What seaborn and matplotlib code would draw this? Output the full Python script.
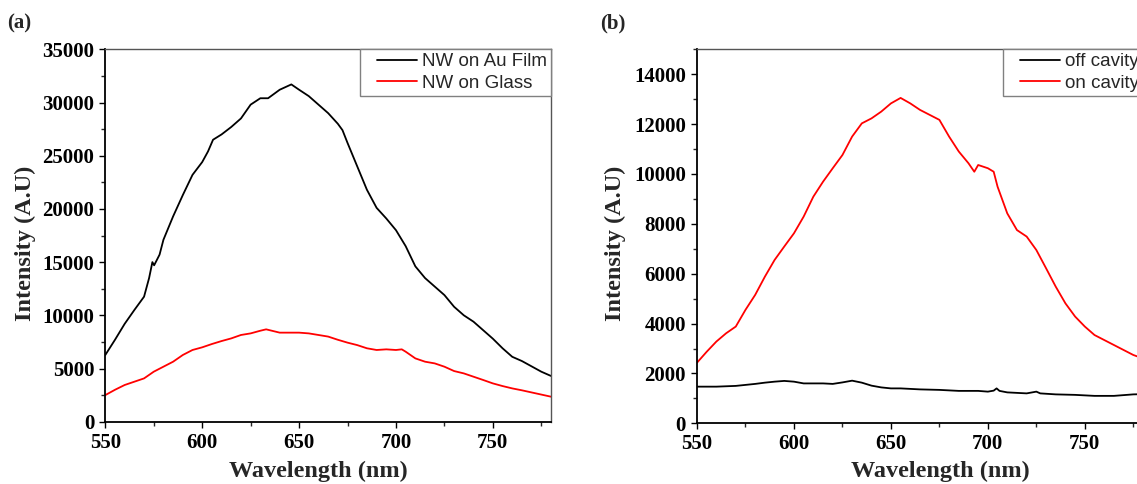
import matplotlib
matplotlib.use("Agg")
import matplotlib.pyplot as plt
import seaborn as sns
import pandas as pd
from matplotlib.lines import Line2D
from matplotlib.legend_handler import HandlerLine2D
from matplotlib.ticker import MultipleLocator
from matplotlib.font_manager import FontProperties

# ---------------- data ----------------
# Panel (a)
wl_au = [550, 555, 560, 565, 570, 572.6, 574.3, 575.2, 578, 580, 585, 590, 595, 600, 603,
         605.6, 610, 615, 620, 625, 630, 634, 640, 646, 650, 655, 660, 665, 670, 672.4,
         675, 680, 685, 690, 695, 700, 705, 710, 715, 720, 725, 730, 735, 740, 745, 750,
         755, 760, 765, 770, 775, 780]
int_au = [6270, 7700, 9200, 10500, 11750, 13500, 15000, 14700, 15700, 17100, 19300, 21300,
          23200, 24400, 25400, 26500, 27000, 27700, 28500, 29800, 30400, 30400, 31200, 31700,
          31200, 30600, 29800, 29000, 28000, 27400, 26200, 24000, 21800, 20100, 19100, 18000,
          16500, 14600, 13500, 12700, 11900, 10800, 10000, 9400, 8600, 7800, 6900, 6100,
          5700, 5200, 4700, 4300]

wl_glass = [550, 555, 560, 565, 570, 575, 580, 585, 590, 595, 600, 605, 610, 615, 620, 625,
            630, 633, 640, 650, 655, 660, 665, 670, 675, 680, 685, 690, 695, 700, 703, 705,
            710, 715, 720, 725, 730, 735, 740, 745, 750, 755, 760, 765, 770, 775, 780]
int_glass = [2500, 3000, 3450, 3760, 4070, 4700, 5170, 5640, 6270, 6740, 6990, 7300, 7580,
             7830, 8150, 8300, 8550, 8680, 8370, 8370, 8300, 8150, 8000, 7700, 7430, 7200,
             6900, 6740, 6800, 6740, 6800, 6580, 5950, 5640, 5480, 5170, 4760, 4540, 4230,
             3920, 3600, 3350, 3130, 2950, 2750, 2550, 2350]

# Panel (b)
wl_on = [550, 555, 560, 565, 570, 575, 580, 585, 590, 595, 600, 605, 610, 615, 620, 625,
         630, 635, 640, 645, 650, 655, 660, 665, 670, 675, 680, 685, 690, 693, 695, 700,
         703, 705, 710, 715, 720, 725, 730, 735, 740, 745, 750, 755, 760, 765, 770, 775,
         780]
int_on = [2430, 2870, 3280, 3610, 3880, 4550, 5150, 5880, 6550, 7090, 7620, 8290, 9090,
          9690, 10230, 10760, 11500, 12030, 12230, 12500, 12830, 13050, 12830, 12570, 12370,
          12170, 11500, 10900, 10430, 10090, 10360, 10230, 10090, 9490, 8420, 7750, 7490,
          6950, 6220, 5480, 4810, 4280, 3880, 3540, 3340, 3140, 2940, 2740, 2600]

wl_off = [550, 560, 570, 580, 585, 590, 595, 600, 605, 610, 615, 620, 625, 630, 635, 640,
          645, 650, 655, 665, 675, 685, 695, 700, 703, 704.5, 706, 710, 720, 725, 727, 735,
          745, 755, 765, 775, 780]
int_off = [1470, 1470, 1500, 1580, 1630, 1670, 1700, 1670, 1600, 1600, 1600, 1580, 1640,
           1710, 1630, 1510, 1440, 1400, 1400, 1360, 1340, 1300, 1300, 1270, 1310, 1400,
           1300, 1240, 1200, 1270, 1200, 1160, 1140, 1100, 1100, 1160, 1170]

labels_a = ["NW on Au Film", "NW on Glass"]
labels_b = ["off cavity", "on cavity"]
xlabel = "Wavelength (nm)"
ylabel = "Intensity (A.U)"

# ---------------- styling ----------------
sns.set_style("ticks")
plt.rcParams["font.family"] = ["Liberation Serif", "DejaVu Serif"]
plt.rcParams["axes.linewidth"] = 1.3

W, H = 1137, 484
fig = plt.figure(figsize=(W / 100, H / 100), dpi=100)
ax1 = fig.add_axes([105.3 / W, 1 - 421.7 / H, (551 - 105.3) / W, (421.7 - 49.3) / H])
ax2 = fig.add_axes([697 / W, 1 - 423.3 / H, 446 / W, (423.3 - 49.3) / H])

df_a1 = pd.DataFrame({"wl": wl_au, "I": int_au})
df_a2 = pd.DataFrame({"wl": wl_glass, "I": int_glass})
df_b1 = pd.DataFrame({"wl": wl_off, "I": int_off})
df_b2 = pd.DataFrame({"wl": wl_on, "I": int_on})

sns.lineplot(data=df_a1, x="wl", y="I", color="black", lw=1.3, ax=ax1, label=labels_a[0])
sns.lineplot(data=df_a2, x="wl", y="I", color="#ff0000", lw=1.3, ax=ax1, label=labels_a[1])
sns.lineplot(data=df_b1, x="wl", y="I", color="black", lw=1.3, ax=ax2, label=labels_b[0])
sns.lineplot(data=df_b2, x="wl", y="I", color="#ff0000", lw=1.3, ax=ax2, label=labels_b[1])

ax1.set_xlim(550, 780)
ax1.set_ylim(0, 35000)
ax2.set_xlim(550, 780)
ax2.set_ylim(0, 15000)

ax1.yaxis.set_major_locator(MultipleLocator(5000))
ax1.yaxis.set_minor_locator(MultipleLocator(2500))
ax2.yaxis.set_major_locator(MultipleLocator(2000))
ax2.yaxis.set_minor_locator(MultipleLocator(1000))

tick_font = FontProperties(family="Liberation Serif", weight="bold", size=15)
label_font = FontProperties(family="Liberation Serif", weight="bold", size=17.5)
leg_font = FontProperties(family="Liberation Sans", size=13.5)

for ax, (ylx, xlx, xly) in zip([ax1, ax2], [(-0.1555, 0.478, -0.104), (-0.159, 0.545, -0.099)]):
    ax.xaxis.set_major_locator(MultipleLocator(50))
    ax.xaxis.set_minor_locator(MultipleLocator(25))
    ax.tick_params(which="major", direction="out", length=4, width=1.0, pad=4,
                   top=False, right=False, colors="black")
    ax.tick_params(which="minor", direction="out", length=3, width=1.0,
                   top=False, right=False)
    for lab in ax.get_xticklabels() + ax.get_yticklabels():
        lab.set_fontproperties(tick_font)
    ax.set_xlabel(xlabel, fontproperties=label_font)
    ax.set_ylabel(ylabel, fontproperties=label_font)
    ax.yaxis.set_label_coords(ylx, 0.48)
    ax.xaxis.set_label_coords(xlx, xly)
    for s in ax.spines.values():
        s.set_color("black")
        s.set_linewidth(1.3)
    ax.spines["top"].set_color("#555555")
    ax.spines["right"].set_color("#555555")
    ax.spines["top"].set_linewidth(1.0)
    ax.spines["right"].set_linewidth(1.0)
    leg = ax.legend(loc="upper right", borderaxespad=0, prop=leg_font, frameon=True,
                    fancybox=False, edgecolor="#808080", framealpha=1,
                    borderpad=0.2, labelspacing=0.25, handlelength=2.8,
                    handletextpad=0.3,
                    handler_map={Line2D: HandlerLine2D(xpad=0.7)})
    leg.get_frame().set_linewidth(1.0)

fig.text(7 / W, 1 - 23 / H, "(a)", fontproperties=FontProperties(family="Liberation Serif", weight="bold", size=15),
         ha="left", va="center")
fig.text(600 / W, 1 - 23 / H, "(b)", fontproperties=FontProperties(family="Liberation Serif", weight="bold", size=15),
         ha="left", va="center")

fig.savefig("out.png", dpi=100)
